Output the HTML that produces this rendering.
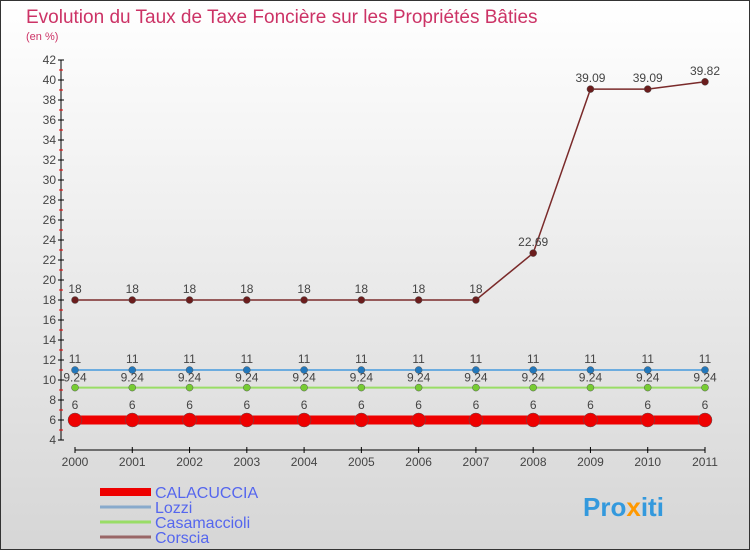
<!DOCTYPE html>
<html><head><meta charset="utf-8"><style>
body{margin:0}
#c{width:750px;height:550px;position:relative;overflow:hidden;font-family:"Liberation Sans","DejaVu Sans",sans-serif}
</style></head><body>
<div id="c">
<svg id="s" width="750" height="550" xmlns="http://www.w3.org/2000/svg">
<defs><linearGradient id="bg" x1="0" y1="0" x2="0" y2="1"><stop offset="0" stop-color="#ffffff"/><stop offset="1" stop-color="#d6d6d6"/></linearGradient></defs>
<rect x="0.5" y="0.5" width="749" height="549" fill="url(#bg)" stroke="#333"/>
<text x="26" y="23" font-size="19" fill="#cc3366">Evolution du Taux de Taxe Foncière sur les Propriétés Bâties</text>
<text x="26" y="40" font-size="11" fill="#cc3366">(en %)</text>
<g id="axes"></g><g id="series"></g><g id="legend"></g>
<text x="583" y="516" font-size="26" font-weight="bold" fill="#3399dd">Pro<tspan fill="#ff9900">x</tspan>iti</text>
</svg>
</div>
<script>
const years=["2000","2001","2002","2003","2004","2005","2006","2007","2008","2009","2010","2011"];
const calacuccia=[6,6,6,6,6,6,6,6,6,6,6,6];
const lozzi=[11,11,11,11,11,11,11,11,11,11,11,11];
const casamaccioli=[9.24,9.24,9.24,9.24,9.24,9.24,9.24,9.24,9.24,9.24,9.24,9.24];
const corscia=[18,18,18,18,18,18,18,18,22.69,39.09,39.09,39.82];
const yTicks=[4,6,8,10,12,14,16,18,20,22,24,26,28,30,32,34,36,38,40,42];
const NS="http://www.w3.org/2000/svg";
const xs=i=>75+i*(630/(years.length-1));
const ys=v=>440-(v-4)*10;
function mk(p,t,a){const e=document.createElementNS(NS,t);for(const k in a)e.setAttribute(k,a[k]);p.appendChild(e);return e;}
const ax=document.getElementById('axes');
let e=mk(ax,'line',{x1:61,y1:60,x2:61,y2:440,stroke:'#000'});

yTicks.forEach(v=>{mk(ax,'line',{x1:58,x2:64,y1:ys(v),y2:ys(v),stroke:'#000'});
 if(v<42)mk(ax,'line',{x1:59,x2:63,y1:ys(v+1),y2:ys(v+1),stroke:'#e00'});
 const t=mk(ax,'text',{x:56,y:ys(v)+4,'font-size':12,'text-anchor':'end',fill:'#444'});t.textContent=v;
 });
e=mk(ax,'line',{x1:75,y1:450,x2:705,y2:450,stroke:'#000'});

years.forEach((y,i)=>{mk(ax,'line',{x1:xs(i),x2:xs(i),y1:447,y2:453,stroke:'#000'});
 const t=mk(ax,'text',{x:xs(i),y:466,'font-size':12,'text-anchor':'middle',fill:'#444'});t.textContent=y;
 });
const se=document.getElementById('series');
const defs=[[corscia,'#7a2a2a','#6b1d1d',1.5,3.5,'corscia',7],[casamaccioli,'#99dd66','#77cc33',2,3.5,'casamaccioli',-13],[lozzi,'#4499dd','#2277bb',1.5,3.5,'lozzi',7],[calacuccia,'#ee0000','#ee0000',9,7,'calacuccia',11]];
defs.forEach(([d,c,pc,w,r,n,off])=>{
 const g=mk(se,'g',{});
 mk(g,'polyline',{points:d.map((v,i)=>xs(i)+','+ys(v)).join(' '),fill:'none',stroke:c,'stroke-width':w});
 d.forEach((v,i)=>{const p=mk(g,'circle',{cx:xs(i),cy:ys(v),r:r,fill:pc,stroke:'#555','stroke-width':0.5});
  
  const t=mk(g,'text',{x:xs(i),y:ys(v)-(off>0?off:0)+(off<0?-off:0)-(off<0?19:0),'font-size':12,'text-anchor':'middle',fill:'#444'});t.textContent=String(v);
  });
});
const lg=document.getElementById('legend');
[['CALACUCCIA','#ee0000',8],['Lozzi','#88aacc',3],['Casamaccioli','#99dd66',3],['Corscia','#996666',3]].forEach(([n,c,w],i)=>{
 const y=492+i*15;
 const g=mk(lg,'g',{});
 mk(g,'line',{x1:100,x2:151,y1:y,y2:y,stroke:c,'stroke-width':w});
 const t=mk(g,'text',{x:155,y:y+6,'font-size':16,fill:'#5566ee'});t.textContent=n;
});
</script>
</body></html>
